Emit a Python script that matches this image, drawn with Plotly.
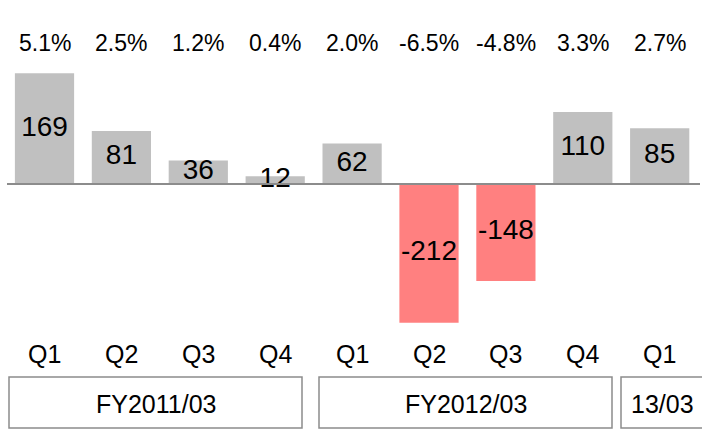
import plotly.graph_objects as go

quarters = ['Q1', 'Q2', 'Q3', 'Q4', 'Q1', 'Q2', 'Q3', 'Q4', 'Q1']
values = [169, 81, 36, 12, 62, -212, -148, 110, 85]
margins = ['5.1%', '2.5%', '1.2%', '0.4%', '2.0%', '-6.5%', '-4.8%', '3.3%', '2.7%']
fiscal_years = ['FY2011/03', 'FY2012/03', '13/03']

FONT = 'Arial, Liberation Sans, sans-serif'
W, H = 702, 430
idx = list(range(len(values)))
colors = ['#C0C0C0' if v >= 0 else '#FF8080' for v in values]

fig = go.Figure()

fig.add_trace(go.Bar(
    x=idx,
    y=values,
    width=0.77,
    marker=dict(color=colors, line=dict(width=0)),
    hoverinfo='skip',
))

# value labels centred in each bar
fig.add_trace(go.Scatter(
    x=idx,
    y=[v / 2 for v in values],
    mode='text',
    text=[str(v) for v in values],
    textfont=dict(family=FONT, size=28, color='black'),
    textposition='middle center',
    cliponaxis=False,
    hoverinfo='skip',
))

annotations = []
# margin row at top
for i, m in zip(idx, margins):
    annotations.append(dict(x=i, y=1 - 43 / H, xref='x', yref='paper', text=m,
                            xanchor='center', yanchor='middle', showarrow=False,
                            font=dict(family=FONT, size=23, color='black')))
# quarter row
for i, q in zip(idx, quarters):
    annotations.append(dict(x=i, y=1 - 354 / H, xref='x', yref='paper', text=q,
                            xanchor='center', yanchor='middle', showarrow=False,
                            font=dict(family=FONT, size=25, color='black')))

# fiscal year boxes (pixel positions)
boxes = [(9, 302), (319, 612), (621, 712)]
shapes = []
for (x0, x1), fy in zip(boxes, fiscal_years):
    shapes.append(dict(type='rect', xref='paper', yref='paper',
                       x0=x0 / W, x1=x1 / W, y0=1 - 428 / H, y1=1 - 377 / H,
                       line=dict(color='#8c8c8c', width=1.5), fillcolor='rgba(0,0,0,0)'))
    cx = (x0 + min(x1, 704)) / 2
    annotations.append(dict(x=cx / W, y=1 - 404 / H, xref='paper', yref='paper', text=fy,
                            xanchor='center', yanchor='middle', showarrow=False,
                            font=dict(family=FONT, size=25, color='black')))

# baseline
shapes.append(dict(type='line', xref='paper', yref='y', x0=7 / W, x1=700 / W, y0=0, y1=0,
                   line=dict(color='#8c8c8c', width=2)))

px_per_unit = 0.655
zero_px = 184
step = 76.9
first = 44.5

fig.update_layout(
    width=W, height=H,
    margin=dict(l=0, r=0, t=0, b=0),
    paper_bgcolor='white',
    plot_bgcolor='white',
    showlegend=False,
    xaxis=dict(range=[-first / step, (W - first) / step], visible=False, fixedrange=True),
    yaxis=dict(range=[-(H - zero_px) / px_per_unit, zero_px / px_per_unit],
               visible=False, fixedrange=True, zeroline=False),
    shapes=shapes,
    annotations=annotations,
)

fig.write_html("out.html", config={'displayModeBar': False},
               post_script="document.body.style.margin='0';document.body.style.overflow='hidden';")
